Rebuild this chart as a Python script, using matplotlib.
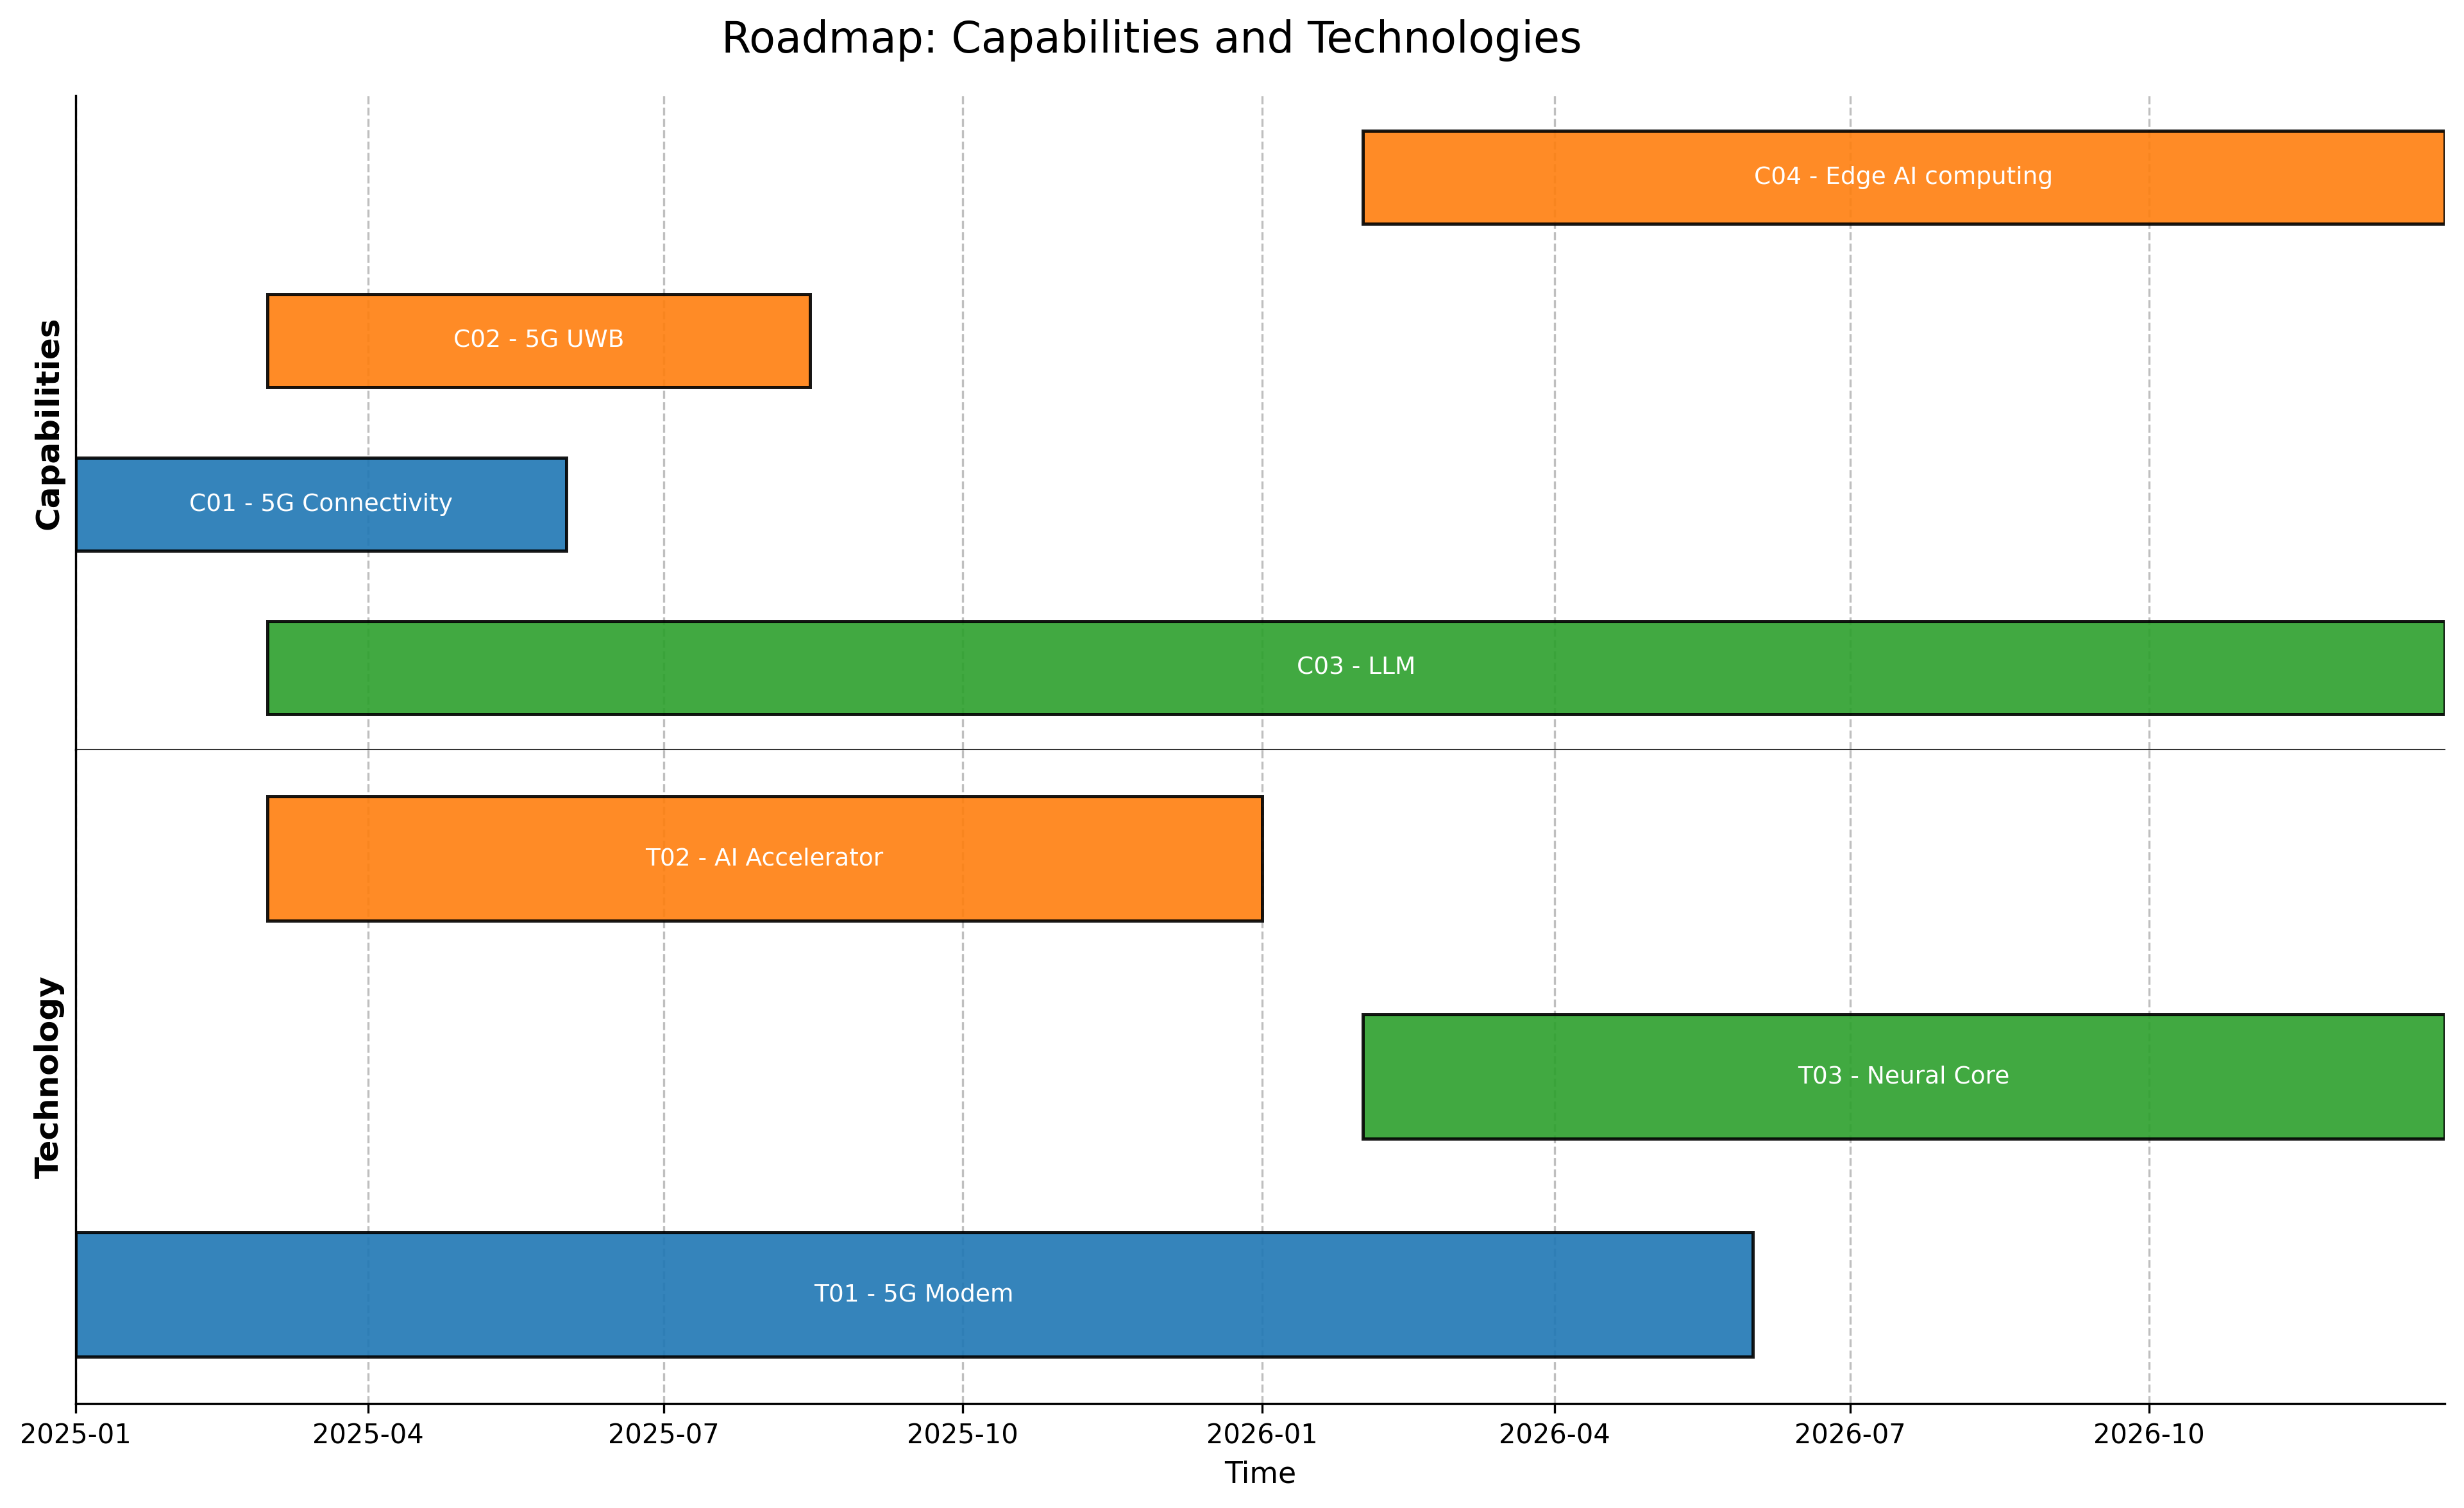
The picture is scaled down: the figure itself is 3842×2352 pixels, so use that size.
import numpy as np
import matplotlib
matplotlib.use("Agg")
import matplotlib.pyplot as plt
import matplotlib.dates as mdates
import pandas as pd

# capabilities (bottom row first)
cap_labels = ["C03 - LLM", "C01 - 5G Connectivity", "C02 - 5G UWB", "C04 - Edge AI computing"]
cap_start = ["2025-03-01", "2025-01-01", "2025-03-01", "2026-02-01"]
cap_end = ["2026-12-31", "2025-06-01", "2025-08-15", "2026-12-31"]
cap_group = ["green", "blue", "orange", "orange"]

# technologies (bottom row first)
tech_labels = ["T01 - 5G Modem", "T03 - Neural Core", "T02 - AI Accelerator"]
tech_start = ["2025-01-01", "2026-02-01", "2025-03-01"]
tech_end = ["2026-06-01", "2026-12-31", "2026-01-01"]
tech_group = ["blue", "green", "orange"]

palette = {"blue": "tab:blue", "orange": "tab:orange", "green": "tab:green"}
bar_h = 0.57

fig = plt.figure(figsize=(3842 / 300, 2352.4 / 300), dpi=300)
ax_c = fig.add_axes([0.0306, 0.5030, 0.9617, 0.4334])
ax_t = fig.add_axes([0.0306, 0.0693, 0.9617, 0.4337], sharex=ax_c)
ax_t.patch.set_visible(False)


def draw(ax, labels, starts, ends, groups):
    s = mdates.date2num(pd.to_datetime(starts))
    e = mdates.date2num(pd.to_datetime(ends))
    y = np.arange(len(labels))
    ax.barh(y, e - s, left=s, height=bar_h,
            color=[palette[g] for g in groups], alpha=0.9,
            edgecolor="black", linewidth=1.2, zorder=2)
    for yi, a, b, lab in zip(y, s, e, labels):
        ax.text((a + b) / 2, yi, lab, ha="center", va="center",
                color="white", fontsize=9, zorder=4)
    ax.set_ylim(-0.5, len(labels) - 0.5)
    ax.set_yticks([])
    ax.grid(axis="x", linestyle="--", color="gray", alpha=0.5, linewidth=0.8, zorder=3)
    ax.spines["top"].set_visible(False)
    ax.spines["right"].set_visible(False)


draw(ax_c, cap_labels, cap_start, cap_end, cap_group)
draw(ax_t, tech_labels, tech_start, tech_end, tech_group)

ax_c.spines["bottom"].set_linewidth(0.5)
ax_c.spines["bottom"].set_color("0.2")
ax_c.tick_params(axis="x", bottom=False, labelbottom=False)

all_start = pd.to_datetime(cap_start + tech_start).min()
all_end = pd.to_datetime(cap_end + tech_end).max()
ax_t.set_xlim(mdates.date2num(all_start), mdates.date2num(all_end))
ax_t.xaxis.set_major_locator(mdates.MonthLocator(bymonth=[1, 4, 7, 10]))
ax_t.xaxis.set_major_formatter(mdates.DateFormatter("%Y-%m"))
ax_t.tick_params(axis="x", labelsize=10)

ax_c.set_ylabel("Capabilities", fontsize=12, fontweight="bold", labelpad=4)
ax_t.set_ylabel("Technology", fontsize=12, fontweight="bold", labelpad=4)
ax_t.set_xlabel("Time", fontsize=11)

fig.text(0.4675, 0.9653, "Roadmap: Capabilities and Technologies",
         ha="center", va="baseline", fontsize=16)

fig.savefig("out.png", dpi=300)
